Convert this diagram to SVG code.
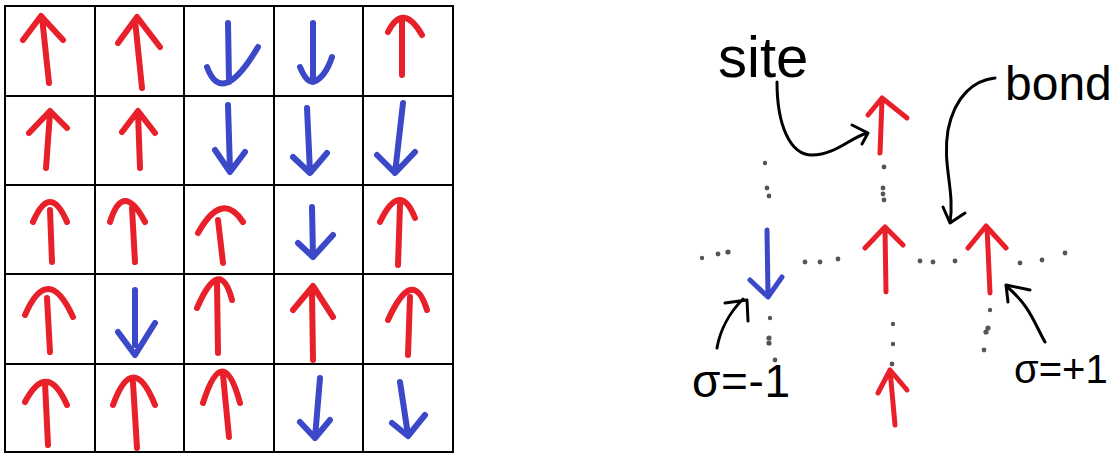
<svg xmlns="http://www.w3.org/2000/svg" width="1113" height="453" viewBox="0 0 1113 453">
<style>
.r{stroke:#e8202a;stroke-width:6;fill:none;stroke-linecap:round;stroke-linejoin:round}
.b{stroke:#3b48c8;stroke-width:6;fill:none;stroke-linecap:round;stroke-linejoin:round}
.r5{stroke:#e8202a;stroke-width:5;fill:none;stroke-linecap:round;stroke-linejoin:round}
.b5{stroke:#3b48c8;stroke-width:5;fill:none;stroke-linecap:round;stroke-linejoin:round}
.k{stroke:#000;stroke-width:3;fill:none;stroke-linecap:round;stroke-linejoin:round}
.g{stroke:#000;stroke-width:2;fill:none}
.d{fill:#555}
.t{font-family:"Liberation Sans",Arial,sans-serif;fill:#000}
</style>
<rect width="1113" height="453" fill="#fff"/>
<g id="grid">
<rect class="g" x="5" y="6" width="448" height="446"/>
<path class="g" d="M95 6V452M184 6V452M274 6V452M363 6V452M5 96H453M5 185H453M5 274H453M5 364H453"/>
</g>
<g id="c11"><path class="r" d="M49 83L42 17M23 40L41 16L63 40"/></g>
<g id="c12"><path class="r" d="M142 88L135 20M118 43L137 17L160 47"/></g>
<g id="c13"><path class="b" d="M228 23L229 82M207 67Q222 108 258 47"/></g>
<g id="c14"><path class="b" d="M313 23L313 82M300 67Q306 82 313 82Q325 78 332 57"/></g>
<g id="c15"><path class="r" d="M402 75L402 18M388 32Q403 2 422 35"/></g>
<g id="c21"><path class="r" d="M46 168L50 113M29 133L50 111L67 128"/></g>
<g id="c22"><path class="r" d="M140 168L138 113M122 132L138 111L155 133"/></g>
<g id="c23"><path class="b" d="M228 105L230 170M215 150L230 172L245 152"/></g>
<g id="c24"><path class="b" d="M307 108L310 172M293 157L310 173L327 153"/></g>
<g id="c25"><path class="b" d="M403 103L395 173M377 155L395 173L415 152"/></g>
<g id="c31"><path class="r" d="M50 210L52 262M33 222Q50 182 67 222"/></g>
<g id="c32"><path class="r" d="M132 208L135 262M110 222Q123 180 145 222"/></g>
<g id="c33"><path class="r" d="M218 220L223 263M198 233Q222 190 243 222"/></g>
<g id="c34"><path class="b" d="M312 207L313 257M298 243L313 257L333 235"/></g>
<g id="c35"><path class="r" d="M400 205L398 265M380 222Q400 180 415 218"/></g>
<g id="c41"><path class="r" d="M47 298L50 352M25 315Q48 262 73 317"/></g>
<g id="c42"><path class="b" d="M135 290L135 345M118 332L135 355L155 323"/></g>
<g id="c43"><path class="r" d="M217 283L218 353M197 308Q220 255 232 300"/></g>
<g id="c44"><path class="r" d="M312 292L313 360M293 310L313 286L333 317"/></g>
<g id="c45"><path class="r" d="M410 297L408 355M388 320Q413 265 427 310"/></g>
<g id="c51"><path class="r" d="M45 383L48 445M25 402Q47 360 67 405"/></g>
<g id="c52"><path class="r" d="M133 383L137 448M113 405Q133 350 155 405"/></g>
<g id="c53"><path class="r" d="M223 375L229 437M203 403Q223 340 240 403"/></g>
<g id="c54"><path class="b" d="M320 378L315 438M300 422L315 438L330 420"/></g>
<g id="c55"><path class="b" d="M400 382L408 435M392 423L408 436L425 415"/></g>

<g id="site-top"><path class="r5" d="M880 153L882 100M868 115L882 98L907 118"/></g>
<g id="site-left"><path class="b5" d="M767 230L768 295M750 280L768 297L782 277"/></g>
<g id="site-mid"><path class="r5" d="M886 292L885 228M865 248L885 227L903 245"/></g>
<g id="site-right"><path class="r5" d="M990 293L987 227M968 248L986 226L1006 248"/></g>
<g id="site-bottom"><path class="r5" d="M895 425L890 370M878 393L890 370L907 390"/></g>

<g id="bonds">
<circle class="d" cx="884" cy="167" r="2.4"/><circle class="d" cx="883" cy="188" r="2.4"/><circle class="d" cx="883" cy="194" r="2.4"/><circle class="d" cx="884" cy="200" r="2.4"/>
<circle class="d" cx="765" cy="163" r="2.2"/><circle class="d" cx="767" cy="188" r="2.4"/><circle class="d" cx="769" cy="196" r="2.4"/>
<circle class="d" cx="702" cy="258" r="2.2"/><circle class="d" cx="718" cy="254" r="2.4"/><circle class="d" cx="728" cy="252" r="2.6"/>
<circle class="d" cx="805" cy="262" r="2.4"/><circle class="d" cx="820" cy="262" r="2.4"/><circle class="d" cx="838" cy="259" r="2.4"/>
<circle class="d" cx="920" cy="261" r="2.4"/><circle class="d" cx="933" cy="262" r="2.4"/><circle class="d" cx="955" cy="261" r="2.4"/>
<circle class="d" cx="1020" cy="263" r="2.4"/><circle class="d" cx="1042" cy="260" r="2.4"/><circle class="d" cx="1065" cy="253" r="2.4"/>
<circle class="d" cx="770" cy="318" r="2.2"/><circle class="d" cx="769" cy="338" r="2.6"/><circle class="d" cx="769" cy="343" r="2.6"/><circle class="d" cx="775" cy="360" r="2.4"/>
<circle class="d" cx="893" cy="324" r="2.2"/><circle class="d" cx="893" cy="344" r="2.2"/><circle class="d" cx="892" cy="364" r="2.4"/>
<circle class="d" cx="990" cy="310" r="2.2"/><circle class="d" cx="988" cy="328" r="2.6"/><circle class="d" cx="986" cy="332" r="2.6"/><circle class="d" cx="984" cy="350" r="2.4"/>
</g>

<g id="connectors">
<path class="k" d="M777 82C777 125 790 155 812 155C835 155 850 138 867 133M852 125L868 133L862 144"/>
<path class="k" d="M995 78C975 80 955 95 948 130C942 165 955 190 950 223M943 207L950 223L965 213"/>
<path class="k" d="M717 348C720 330 730 312 743 299M725 303L747 300L748 321"/>
<path class="k" d="M1045 342C1035 325 1030 305 1006 286M1030 290L1006 285L1008 302"/>
</g>

<g id="label-site"><text class="t" x="718" y="77" font-size="58">site</text></g>
<g id="label-bond"><text class="t" x="1005" y="100" font-size="48">bond</text></g>
<g id="label-minus"><text class="t" x="692" y="397" font-size="46" textLength="98" lengthAdjust="spacing">σ=-1</text></g>
<g id="label-plus"><text class="t" x="1014" y="383" font-size="40">σ=+1</text></g>
</svg>
